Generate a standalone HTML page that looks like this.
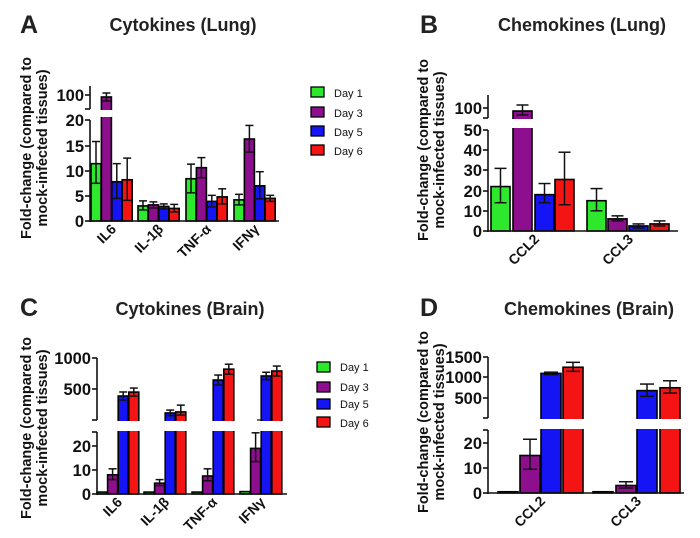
<!DOCTYPE html>
<html><head><meta charset="utf-8"><style>
body{margin:0;background:#fff}
svg{display:block;font-family:"Liberation Sans",Arial,sans-serif}
.t{font-weight:bold;font-size:18px}
.tk{font-weight:bold;font-size:16.5px;text-anchor:end}
.yl{font-weight:bold;font-size:14.5px;text-anchor:middle}
.xl{font-weight:bold;font-size:14px;text-anchor:end}
.lg{font-size:11px}
.L{font-weight:bold;font-size:25px}
</style></head><body>
<svg id="s" width="700" height="538" viewBox="0 0 700 538" xmlns="http://www.w3.org/2000/svg">
<g fill="#222">
<text class="L" x="20" y="33">A</text>
<text class="t" x="183" y="31" text-anchor="middle">Cytokines (Lung)</text>
<text class="L" x="420" y="33">B</text>
<text class="t" x="582" y="31" text-anchor="middle">Chemokines (Lung)</text>
<text class="L" x="20" y="316">C</text>
<text class="t" x="190" y="315" text-anchor="middle">Cytokines (Brain)</text>
<text class="L" x="420" y="316">D</text>
<text class="t" x="589" y="315" text-anchor="middle">Chemokines (Brain)</text>
</g>
<g fill="#111">
<text class="yl" transform="translate(31,148) rotate(-90)">Fold-change (compared to</text>
<text class="yl" transform="translate(47,148) rotate(-90)">mock-infected tissues)</text>
<text class="yl" transform="translate(428,150) rotate(-90)">Fold-change (compared to</text>
<text class="yl" transform="translate(444,150) rotate(-90)">mock-infected tissues)</text>
<text class="yl" transform="translate(31,428) rotate(-90)">Fold-change (compared to</text>
<text class="yl" transform="translate(47,428) rotate(-90)">mock-infected tissues)</text>
<text class="yl" transform="translate(428,422) rotate(-90)">Fold-change (compared to</text>
<text class="yl" transform="translate(444,422) rotate(-90)">mock-infected tissues)</text>
<text class="tk" x="84" y="101">100</text>
<text class="tk" x="84" y="126">20</text>
<text class="tk" x="84" y="152">15</text>
<text class="tk" x="84" y="177">10</text>
<text class="tk" x="84" y="202">5</text>
<text class="tk" x="84" y="227">0</text>
<text class="tk" x="482" y="114">100</text>
<text class="tk" x="482" y="136">50</text>
<text class="tk" x="482" y="156">40</text>
<text class="tk" x="482" y="176">30</text>
<text class="tk" x="482" y="197">20</text>
<text class="tk" x="482" y="217">10</text>
<text class="tk" x="482" y="237">0</text>
<text class="tk" x="91" y="364">1000</text>
<text class="tk" x="91" y="395">500</text>
<text class="tk" x="91" y="452">20</text>
<text class="tk" x="91" y="476">10</text>
<text class="tk" x="91" y="500">0</text>
<text class="tk" x="482" y="363">1500</text>
<text class="tk" x="482" y="383">1000</text>
<text class="tk" x="482" y="404">500</text>
<text class="tk" x="482" y="449">20</text>
<text class="tk" x="482" y="474">10</text>
<text class="tk" x="482" y="499">0</text>
<text class="xl" transform="translate(117,230) rotate(-45)">IL6</text>
<text class="xl" transform="translate(164,230) rotate(-45)">IL-1β</text>
<text class="xl" transform="translate(212,230) rotate(-45)">TNF-α</text>
<text class="xl" transform="translate(260,230) rotate(-45)">IFNγ</text>
<text class="xl" transform="translate(540,240) rotate(-45)">CCL2</text>
<text class="xl" transform="translate(634,240) rotate(-45)">CCL3</text>
<text class="xl" transform="translate(123,503) rotate(-45)">IL6</text>
<text class="xl" transform="translate(170,503) rotate(-45)">IL-1β</text>
<text class="xl" transform="translate(218,503) rotate(-45)">TNF-α</text>
<text class="xl" transform="translate(266,503) rotate(-45)">IFNγ</text>
<text class="xl" transform="translate(546,502) rotate(-45)">CCL2</text>
<text class="xl" transform="translate(642,502) rotate(-45)">CCL3</text>
<text class="lg" x="334" y="97">Day 1</text>
<text class="lg" x="334" y="117">Day 3</text>
<text class="lg" x="334" y="136">Day 5</text>
<text class="lg" x="334" y="155">Day 6</text>
<text class="lg" x="340" y="371">Day 1</text>
<text class="lg" x="340" y="391">Day 3</text>
<text class="lg" x="340" y="408">Day 5</text>
<text class="lg" x="340" y="427">Day 6</text>
</g>
<g id="g"></g>
</svg>
<script>
var C=['#2ee82e','#8e0f8e','#1414f5','#f51414'];
var h='';
function R(x,y,w,hh,f,sw){h+='<rect x="'+x+'" y="'+y+'" width="'+w+'" height="'+hh+'" fill="'+f+'" stroke="#000" stroke-width="'+(sw||1.6)+'"/>';}
function Ln(a,b,c,d,sw){h+='<line x1="'+a+'" y1="'+b+'" x2="'+c+'" y2="'+d+'" stroke="#111" stroke-width="'+(sw||1.5)+'"/>';}
function W(x,y,w,hh){h+='<rect x="'+x+'" y="'+y+'" width="'+w+'" height="'+hh+'" fill="#fff"/>';}
function bar(x,w,base,top,col,et,eb,cap){
 R(x,top,w,base-top,col);
 if(et!=null){var c=x+w/2,k=cap||w*0.32;Ln(c,et,c,eb);Ln(c-k,et,c+k,et);Ln(c-k,eb,c+k,eb);}
}
var a=function(v){return 221-v*5.03;};
var A=[[11.4,15.8,7.5],[0,0,0],[7.8,11.4,4.5],[8.2,12.5,4.1],
[3,4,2.2],[3.2,3.8,2.6],[2.9,3.4,2.4],[2.5,3.3,1.8],
[8.4,11.3,5.6],[10.6,12.6,8.6],[3.9,5.1,2.8],[4.8,6.4,3.4],
[4.2,5.3,3.2],[16.3,19,13.7],[7,9.8,4.4],[4.5,5.1,3.9]];
var gx=[91,138,186,234];
for(var g=0;g<4;g++)for(var i=0;i<4;i++){var d=A[g*4+i],x=gx[g]+i*10.4;
 if(g==0&&i==1){bar(x,10,221,97,C[1],93,101,4);W(x-1,110,12,7);}
 else bar(x,10,221,a(d[0]),C[i],a(d[1]),a(d[2]),4);}
Ln(90,120,90,222,1.6);Ln(90,86,90,109,1.6);Ln(89,221,279,221,1.6);
[120,146,171,196,221].forEach(function(y){Ln(85,y,90,y,1.6);});Ln(85,95,90,95,1.6);Ln(85,109,90,109,1.6);
for(i=0;i<4;i++)R(311,[87,107,126,145][i],13,10,C[i],1.3);
var b=function(v){return 231-v*2.02;};
var B=[[22,31,14],[0,0,0],[18,23.5,14],[25.5,39,13],[15,21,10],[6,7.5,5],[2.5,3.5,1.5],[3.5,5,2.5]];
var bx=[[491,513,535,555],[587,608,629,650]];
for(g=0;g<2;g++)for(i=0;i<4;i++){d=B[g*4+i];x=bx[g][i];
 if(g==0&&i==1){bar(x,19,231,111,C[1],105,115,6);W(x-1,119,21,9);}
 else bar(x,19,231,b(d[0]),C[i],b(d[1]),b(d[2]),6);}
Ln(488,130,488,232,1.6);Ln(488,95,488,118,1.6);Ln(487,231,678,231,1.6);
[130,150,170,191,211,231].forEach(function(y){Ln(483,y,488,y,1.6);});Ln(483,108,488,108,1.6);Ln(483,118,488,118,1.6);
var cl=function(v){return 494-v*2.4;},cu=function(v){return 420-v*0.062;};
var CL=[[0.8],[8,10.5,6],[0,0,0],[0,0,0],[0.8],[4.5,6,3.5],[0,0,0],[0,0,0],[0.8],[7.5,10.5,5.5],[0,0,0],[0,0,0],[1],[19,25.5,13.5],[0,0,0],[0,0,0]];
var CU=[[387,452,322],[450,515,385],[113,160,70],[130,240,80],[645,725,565],[820,900,740],[710,770,650],[790,870,710]];
var cx=[97,144,192,240];
for(g=0;g<4;g++)for(i=0;i<4;i++){x=cx[g]+i*10.6;d=CL[g*4+i];
 if(i==0)bar(x,10,494,cl(d[0]),C[0]);
 else if(i==1)bar(x,10,494,cl(d[0]),C[1],cl(d[1]),cl(d[2]),4);
 else{var u=CU[g*2+i-2];bar(x,10,494,cu(u[0]),C[i],cu(u[1]),cu(u[2]),4);W(x-1,421,12,10);}}
Ln(257,420,263,420,1.2);
Ln(97,432,97,495,1.6);Ln(97,358,97,420,1.6);Ln(96,494,287,494,1.6);
[446,470,494].forEach(function(y){Ln(92,y,97,y,1.6);});[358,389,420,432].forEach(function(y){Ln(92,y,97,y,1.6);});
for(i=0;i<4;i++)R(317,[362,382,399,417][i],13,10,C[i],1.3);
var dl=function(v){return 493-v*2.5;},du=function(v){return 418.5-v*0.041;};
var DU=[[1100,1130,1070],[1250,1370,1150],[680,840,540],[750,920,620]];
var dx=[[498,520,541,563],[593,616,637,660]];
for(g=0;g<2;g++){
 bar(dx[g][0],20,493,dl(0.5),C[0]);
 var p=g==0?[15,21.5,9.5]:[3,4.5,2];
 bar(dx[g][1],20,493,dl(p[0]),C[1],dl(p[1]),dl(p[2]),7);
 for(i=2;i<4;i++){u=DU[g*2+i-2];x=dx[g][i];bar(x,20,493,du(u[0]),C[i],du(u[1]),du(u[2]),7);W(x-1,419,22,10);}
}
Ln(488,430,488,494,1.6);Ln(488,357,488,418,1.6);Ln(487,493,684,493,1.6);
[443,468,493,430].forEach(function(y){Ln(483,y,488,y,1.6);});[357,377,398,418].forEach(function(y){Ln(483,y,488,y,1.6);});
document.getElementById('g').innerHTML=h;
</script>
</body></html>
